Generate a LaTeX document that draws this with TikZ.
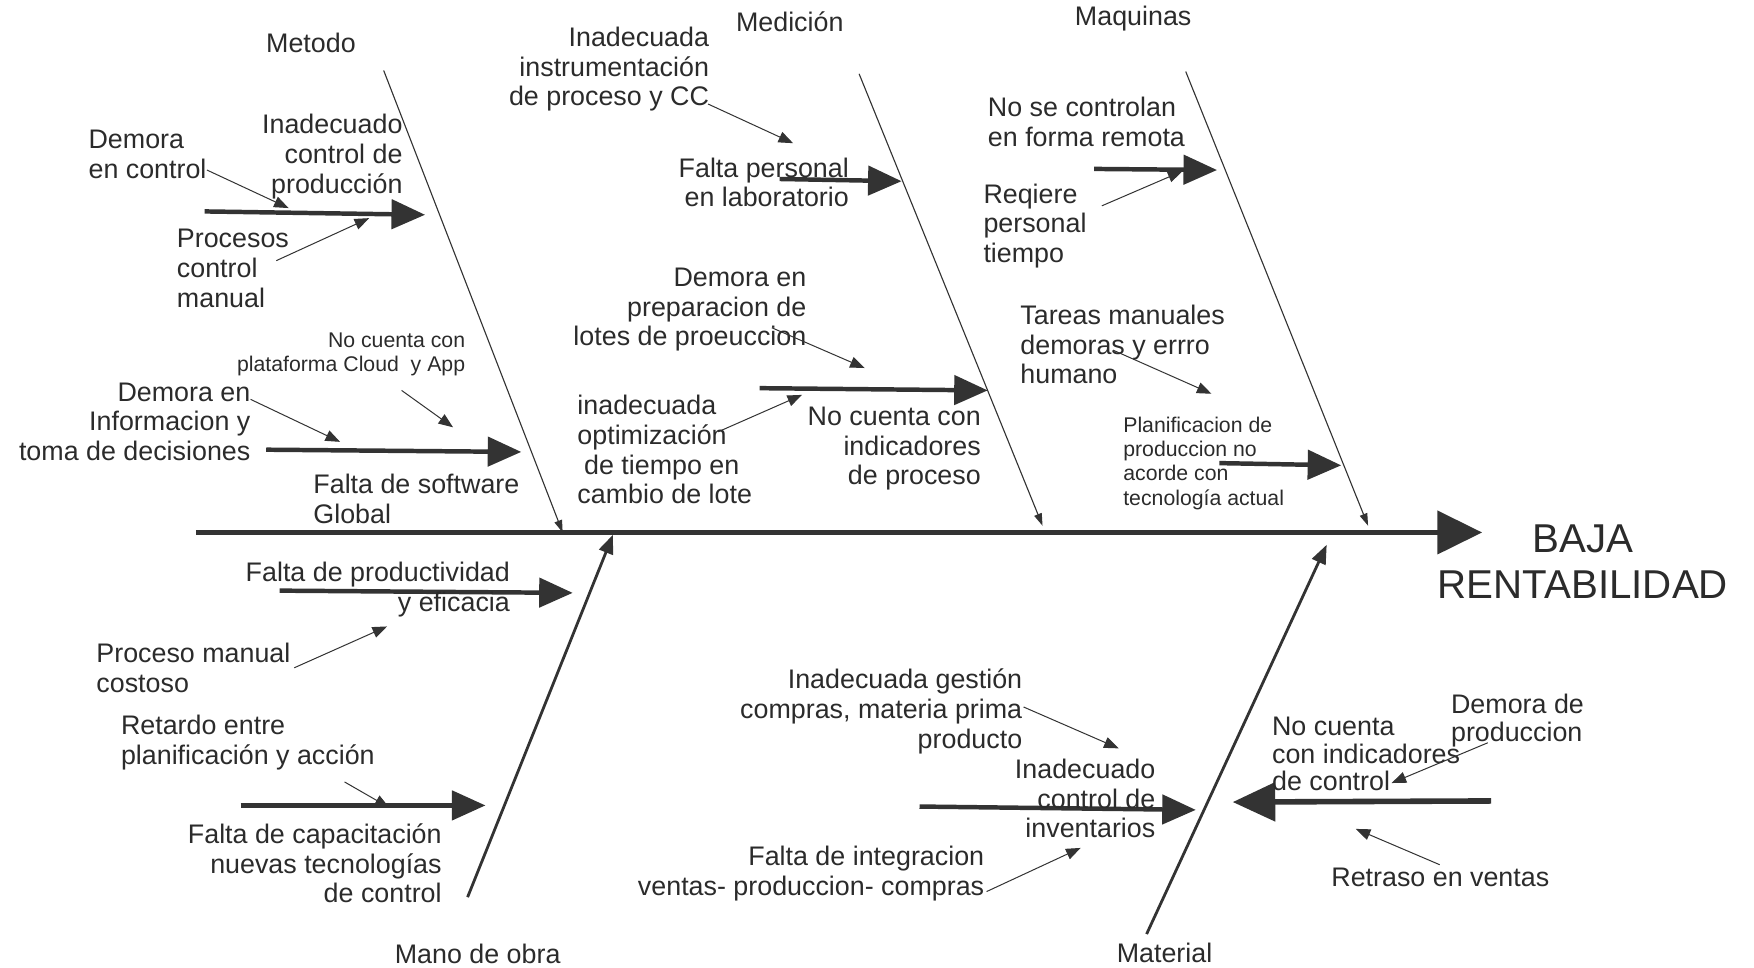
\documentclass[tikz,border=0pt]{standalone}
\usepackage{fontspec}
\setmainfont{Liberation Sans}
\usetikzlibrary{arrows.meta}
\definecolor{ink}{HTML}{333333}
\definecolor{txt}{HTML}{2B2B2B}
\begin{document}
\begin{tikzpicture}[x=1pt,y=-1pt,
  lbl/.style={inner sep=0pt, text=txt, font=\fontsize{24}{26.5}\selectfont},
  lbltight/.style={inner sep=0pt, text=txt, font=\fontsize{24}{24.5}\selectfont},
  small/.style={inner sep=0pt, text=txt, font=\fontsize{19}{21.8}\selectfont},
  headtxt/.style={inner sep=0pt, text=txt, font=\fontsize{36}{41}\selectfont},
  spine/.style={line width=5pt, draw=ink, -{Triangle[length=40pt,width=38pt]}},
  bone/.style={line width=1pt, draw=ink, -{Triangle[length=11pt,width=7pt]}},
  hbone/.style={line width=2.5pt, draw=ink, -{Triangle[length=17pt,width=13pt]}},
  cause/.style={line width=4pt, draw=ink, -{Triangle[length=30pt,width=26pt]}},
  bigcause/.style={line width=5pt, draw=ink, -{Triangle[length=38pt,width=34pt]}},
  sub/.style={line width=0.9pt, draw=ink, -{Triangle[length=13pt,width=10pt]}},
]
\useasboundingbox (0,0) rectangle (1568,865);

% ---------- spine and effect ----------
\coordinate (tail) at (175,476);
\coordinate (head) at (1325,476);
\draw[spine] (tail) -- (head);
\node[headtxt, align=center] (effect) at (1415,502) {BAJA\\RENTABILIDAD};

% ---------- category labels ----------
\node[lbl] (metodo)   at (278,38)  {Metodo};
\node[lbl] (medicion) at (706,19)  {Medición};
\node[lbl] (maquinas) at (1013,17) {Maquinas};
\node[lbl] (manoobra) at (427,853) {Mano de obra};
\node[lbl] (material) at (1041,852) {Material};

% ---------- category bones ----------
\coordinate (b1a) at (343,63);   \coordinate (b1b) at (503,476);
\coordinate (b2a) at (768,66);   \coordinate (b2b) at (932,470);
\coordinate (b3a) at (1060,64);  \coordinate (b3b) at (1223,470);
\coordinate (b4a) at (418,802);  \coordinate (b4b) at (548,478);
\coordinate (b5a) at (1025,835); \coordinate (b5b) at (1186,487);
\draw[bone]  (b1a) -- (b1b);
\draw[bone]  (b2a) -- (b2b);
\draw[bone]  (b3a) -- (b3b);
\draw[hbone] (b4a) -- (b4b);
\draw[hbone] (b5a) -- (b5b);

% ---------- cause arrows ----------
\coordinate (c1a) at (183,189);  \coordinate (c1b) at (380,192);
\coordinate (c2a) at (238,402);  \coordinate (c2b) at (466,404);
\coordinate (c3a) at (697,160);  \coordinate (c3b) at (806,162);
\coordinate (c4a) at (679,347);  \coordinate (c4b) at (883,349);
\coordinate (c5a) at (978,151);  \coordinate (c5b) at (1088,152);
\coordinate (c6a) at (1090,414); \coordinate (c6b) at (1199,416);
\coordinate (c7a) at (250,528);  \coordinate (c7b) at (512,530);
\coordinate (c8a) at (215,720);  \coordinate (c8b) at (434,720);
\coordinate (c9a) at (822,721);  \coordinate (c9b) at (1069,724);
\coordinate (c10a) at (1333,716); \coordinate (c10b) at (1102,717);
\draw[cause] (c1a) -- (c1b);
\draw[cause] (c2a) -- (c2b);
\draw[cause] (c3a) -- (c3b);
\draw[cause] (c4a) -- (c4b);
\draw[cause] (c5a) -- (c5b);
\draw[cause] (c6a) -- (c6b);
\draw[cause] (c7a) -- (c7b);
\draw[cause] (c8a) -- (c8b);
\draw[cause] (c9a) -- (c9b);
\draw[bigcause] (c10a) -- (c10b);

% ---------- Metodo ----------
\node[lbl, anchor=west, align=left]  (demctl) at (79,138)  {Demora\\en control};
\node[lbl, anchor=east, align=right] (icp)    at (360,140) {Inadecuado\\control de\\producción};
\node[lbl, anchor=west, align=left]  (pcm)    at (158,240) {Procesos\\control\\manual};
\node[small, anchor=east, align=right] (cloud) at (416,317) {No cuenta con\\plataforma Cloud\ \ y App};
\node[lbl, anchor=east, align=right] (dinf)   at (224,377) {Demora en\\Informacion y\\toma de decisiones};
\node[lbl, anchor=west, align=left]  (fsg)    at (280,446) {Falta de software\\Global};

% ---------- Medicion ----------
\node[lbl, anchor=east, align=right] (iin) at (634,62)  {Inadecuada\\instrumentación\\de proceso y CC};
\node[lbl, anchor=east, align=right] (fpl) at (759,163) {Falta personal\\en laboratorio};
\node[lbl, anchor=east, align=right] (dpl) at (721,277) {Demora en\\preparacion de\\lotes de proeuccion};
\node[lbl, anchor=west, align=left]  (iop) at (516,402) {inadecuada\\optimización\\\hspace*{6pt}de tiempo en\\cambio de lote};
\node[lbl, anchor=east, align=right] (nci) at (877,401) {No cuenta con\\indicadores\\de proceso};

% ---------- Maquinas ----------
\node[lbl, anchor=west, align=left]   (nsc) at (883,109)  {No se controlan\\en forma remota};
\node[lbl, anchor=west, align=left]   (rpt) at (879,202)  {Reqiere\\personal\\tiempo};
\node[lbl, anchor=west, align=left]   (tmd) at (912,308)  {Tareas manuales\\demoras y errro\\humano};
\node[small, anchor=west, align=left] (pln) at (1004,414) {Planificacion de\\produccion no\\acorde con\\tecnología actual};

% ---------- Mano de obra ----------
\node[lbl, anchor=east, align=right] (fpe) at (456,527) {Falta de productividad\\y eficacia};
\node[lbl, anchor=west, align=left]  (pmc) at (86,597)  {Proceso manual\\costoso};
\node[lbl, anchor=west, align=left]  (rpa) at (108,664) {Retardo entre\\planificación y acción};
\node[lbl, anchor=east, align=right] (fcn) at (395,772) {Falta de capacitación\\nuevas tecnologías\\de control};

% ---------- Material ----------
\node[lbl, anchor=east, align=right]      (igc) at (914,636)  {Inadecuada gestión\\compras, materia prima\\producto};
\node[lbl, anchor=east, align=right]      (ici) at (1033,714) {Inadecuado\\control de\\inventarios};
\node[lbl, anchor=east, align=right]      (fin) at (880,781)  {Falta de integracion\\ventas- produccion- compras};
\node[lbltight, anchor=west, align=left]  (nic) at (1137,674) {No cuenta\\con indicadores\\de control};
\node[lbltight, anchor=west, align=left]  (ddp) at (1297,644) {Demora de\\produccion};
\node[lbl, anchor=west]                   (rev) at (1190,784) {Retraso en ventas};

% ---------- sub-cause pointers ----------
\coordinate (s1a) at (185,152);  \coordinate (s1b) at (258,186);
\coordinate (s2a) at (247,233);  \coordinate (s2b) at (330,195);
\coordinate (s3a) at (224,357);  \coordinate (s3b) at (304,395);
\coordinate (s4a) at (359,349);  \coordinate (s4b) at (405,382);
\coordinate (s5a) at (633,93);   \coordinate (s5b) at (709,128);
\coordinate (s6a) at (690,293);  \coordinate (s6b) at (773,329);
\coordinate (s7a) at (642,386);  \coordinate (s7b) at (717,353);
\coordinate (s8a) at (985,184);  \coordinate (s8b) at (1057,153);
\coordinate (s9a) at (995,313);  \coordinate (s9b) at (1083,352);
\coordinate (s10a) at (263,597); \coordinate (s10b) at (346,560);
\coordinate (s11a) at (308,699); \coordinate (s11b) at (348,722);
\coordinate (s12a) at (915,632); \coordinate (s12b) at (1000,669);
\coordinate (s13a) at (882,797); \coordinate (s13b) at (966,758);
\coordinate (s14a) at (1330,664); \coordinate (s14b) at (1244,700);
\coordinate (s15a) at (1287,773); \coordinate (s15b) at (1212,741);
\foreach \k in {1,...,15} {\draw[sub] (s\k a) -- (s\k b);}
\end{tikzpicture}
\end{document}
